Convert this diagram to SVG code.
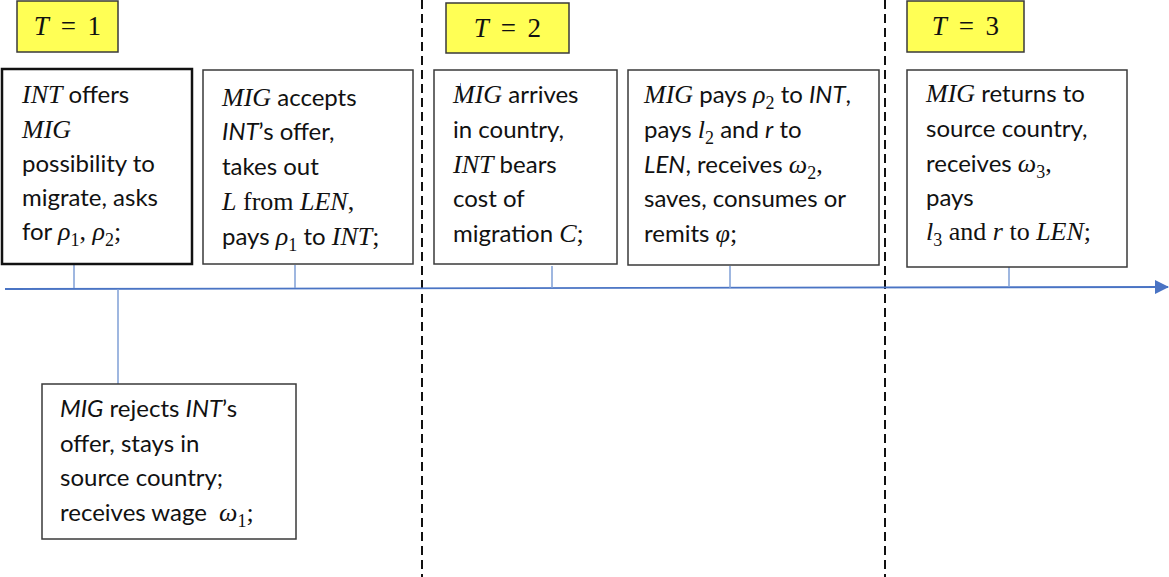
<svg xmlns="http://www.w3.org/2000/svg" width="1169" height="577" viewBox="0 0 1169 577">
  <style>
    .box { fill: #ffffff; stroke: #3a3a3a; stroke-width: 1.5; }
    .box-main { fill: #ffffff; stroke: #111111; stroke-width: 2.5; }
    .period { fill: #ffff55; stroke: #3a3a3a; stroke-width: 1.5; }
    .tick { stroke: #7f9fd6; stroke-width: 1.5; fill: none; }
    .axis { stroke: #4a74c4; stroke-width: 1.8; fill: none; }
    .divider { stroke: #111111; stroke-width: 2; stroke-dasharray: 9 5; fill: none; }
    text { font-family: "Lato", "Open Sans", "Liberation Sans", sans-serif; font-size: 24px; fill: #111111; }
    .m { font-family: "Liberation Serif", "DejaVu Serif", serif; font-style: italic; font-size: 26px; }
    .mu { font-family: "Liberation Serif", "DejaVu Serif", serif; font-size: 26px; }
    .si { font-style: italic; }
    .sub { font-size: 18px; }
    .lbl { font-family: "Liberation Serif", "DejaVu Serif", serif; font-size: 27px; text-anchor: middle; word-spacing: 5px; }
  </style>
  <defs>
    <marker id="arrow" viewBox="0 0 14 14" refX="13" refY="7" markerWidth="14" markerHeight="14" markerUnits="userSpaceOnUse" orient="auto">
      <path d="M0,0 L14,7 L0,14 z" fill="#4a74c4"/>
    </marker>
  </defs>

  <!-- period separators -->
  <g id="dividers">
    <line class="divider" x1="422" y1="0" x2="422" y2="577"/>
    <line class="divider" x1="885" y1="0" x2="885" y2="577"/>
  </g>

  <!-- time axis and event ticks -->
  <g id="connectors">
    <line class="axis" x1="5" y1="289" x2="1168" y2="287" marker-end="url(#arrow)"/>
    <line class="tick" x1="74" y1="265" x2="74" y2="288"/>
    <line class="tick" x1="295" y1="265" x2="295" y2="288"/>
    <line class="tick" x1="552" y1="266" x2="552" y2="288"/>
    <line class="tick" x1="730" y1="266" x2="730" y2="288"/>
    <line class="tick" x1="1009" y1="267" x2="1009" y2="287"/>
    <line class="tick" x1="118" y1="289" x2="118" y2="384"/>
  </g>

  <!-- period labels -->
  <g id="period-1">
    <rect class="period" x="17" y="1" width="101" height="51"/>
    <text class="lbl" x="67.5" y="35"><tspan font-style="italic">T</tspan> = 1</text>
  </g>
  <g id="period-2">
    <rect class="period" x="446" y="3" width="123" height="50"/>
    <text class="lbl" x="507.5" y="37"><tspan font-style="italic">T</tspan> = 2</text>
  </g>
  <g id="period-3">
    <rect class="period" x="907" y="1" width="117" height="51"/>
    <text class="lbl" x="965.5" y="35"><tspan font-style="italic">T</tspan> = 3</text>
  </g>

  <!-- events -->
  <g id="int-offers">
    <rect class="box-main" x="2" y="69" width="190" height="195"/>
    <text x="22" y="103"><tspan class="m">INT</tspan> offers</text>
    <text x="22" y="138"><tspan class="m">MIG</tspan></text>
    <text x="22" y="172">possibility to</text>
    <text x="22" y="206">migrate, asks</text>
    <text x="22" y="240">for <tspan class="m">ρ</tspan><tspan class="mu sub" dy="6">1</tspan><tspan class="mu" dy="-6">, </tspan><tspan class="m">ρ</tspan><tspan class="mu sub" dy="6">2</tspan><tspan class="mu" dy="-6">;</tspan></text>
  </g>

  <g id="mig-accepts">
    <rect class="box" x="203" y="70" width="210" height="194"/>
    <text x="222" y="106"><tspan class="m">MIG</tspan> accepts</text>
    <text x="222" y="140"><tspan class="si">INT</tspan>’s offer,</text>
    <text x="222" y="175">takes out</text>
    <text x="222" y="210"><tspan class="m">L</tspan><tspan class="mu"> from </tspan><tspan class="m">LEN</tspan><tspan class="mu">,</tspan></text>
    <text x="222" y="245">pays <tspan class="m">ρ</tspan><tspan class="mu sub" dy="6">1</tspan><tspan dy="-6"> to </tspan><tspan class="m">INT</tspan><tspan class="mu">;</tspan></text>
  </g>

  <g id="mig-arrives">
    <rect class="box" x="434" y="70" width="183" height="194"/>
    <line x1="460.5" y1="83" x2="460.5" y2="101" stroke="#6f8fd0" stroke-width="1"/>
    <text x="453" y="103"><tspan class="m">MIG</tspan> arrives</text>
    <text x="453" y="138">in country,</text>
    <text x="453" y="173"><tspan class="m">INT</tspan> bears</text>
    <text x="453" y="207">cost of</text>
    <text x="453" y="242">migration <tspan class="m">C</tspan><tspan class="mu">;</tspan></text>
  </g>

  <g id="mig-pays">
    <rect class="box" x="628" y="70" width="251" height="195"/>
    <text x="644" y="103"><tspan class="m">MIG</tspan> pays <tspan class="m">ρ</tspan><tspan class="mu sub" dy="6">2</tspan><tspan dy="-6"> to </tspan><tspan class="si">INT</tspan>,</text>
    <text x="644" y="138">pays <tspan class="m">l</tspan><tspan class="mu sub" dy="6">2</tspan><tspan dy="-6"> and </tspan><tspan class="si">r</tspan> to</text>
    <text x="644" y="173"><tspan class="si">LEN</tspan>, receives <tspan class="m">ω</tspan><tspan class="mu sub" dy="6">2</tspan><tspan class="mu" dy="-6">,</tspan></text>
    <text x="644" y="207">saves, consumes or</text>
    <text x="644" y="242">remits <tspan class="m">φ</tspan><tspan class="mu">;</tspan></text>
  </g>

  <g id="mig-returns">
    <rect class="box" x="907" y="70" width="220" height="197"/>
    <text x="926" y="102"><tspan class="m">MIG</tspan> returns to</text>
    <text x="926" y="137">source country,</text>
    <text x="926" y="172">receives <tspan class="m">ω</tspan><tspan class="mu sub" dy="6">3</tspan><tspan class="mu" dy="-6">,</tspan></text>
    <text x="926" y="206">pays</text>
    <text x="926" y="240"><tspan class="m">l</tspan><tspan class="mu sub" dy="6">3</tspan><tspan class="mu" dy="-6"> and </tspan><tspan class="m">r</tspan><tspan class="mu"> to </tspan><tspan class="m">LEN</tspan><tspan class="mu">;</tspan></text>
  </g>

  <g id="mig-rejects">
    <rect class="box" x="42" y="384" width="254" height="155"/>
    <text x="60" y="417"><tspan class="si">MIG</tspan> rejects <tspan class="si">INT</tspan>’s</text>
    <text x="60" y="452">offer, stays in</text>
    <text x="60" y="486">source country;</text>
    <text x="60" y="521">receives wage <tspan class="m" dx="6">ω</tspan><tspan class="mu sub" dy="6">1</tspan><tspan class="mu" dy="-6">;</tspan></text>
  </g>
</svg>
